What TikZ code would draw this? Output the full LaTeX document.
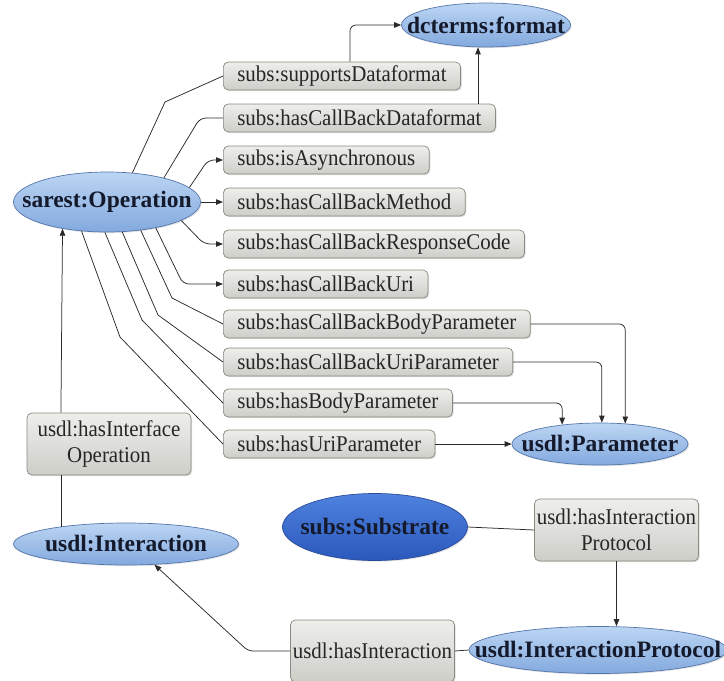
\documentclass[tikz,border=0pt]{standalone}
\usepackage{fontspec}
\setmainfont{Liberation Serif}[FakeStretch=0.93]
\newfontfamily\classfont{Liberation Serif}
\usetikzlibrary{shapes.geometric,arrows.meta,shadows}

\definecolor{boxtop}{HTML}{EEEEEB}
\definecolor{boxbot}{HTML}{CECEC9}
\definecolor{boxline}{HTML}{8A8A80}
\definecolor{elltop}{HTML}{BCD5F3}
\definecolor{ellbot}{HTML}{82A9DE}
\definecolor{ellline}{HTML}{5575AA}
\definecolor{subtop}{HTML}{4F82DE}
\definecolor{subbot}{HTML}{2A58BC}
\definecolor{subline}{HTML}{2A4C98}
\definecolor{inkdark}{HTML}{141A2C}
\definecolor{wire}{HTML}{2A2A2A}

\tikzset{
  propbox/.style={draw=boxline, line width=0.7pt, rounded corners=5pt,
    top color=boxtop, bottom color=boxbot, text=black!85,
    font=\fontsize{22.5}{26}\selectfont, inner xsep=14pt, inner ysep=0pt,
    minimum height=28pt,
    drop shadow={shadow xshift=1.2pt, shadow yshift=-1.2pt, opacity=0.25}},
  leftbox/.style={propbox, anchor=west},
  bigbox/.style={propbox, align=center, inner xsep=2pt,
    minimum width=164pt, minimum height=62pt},
  classell/.style={ellipse, draw=ellline, line width=0.7pt,
    top color=elltop, bottom color=ellbot, text=inkdark, inner sep=0pt,
    font=\classfont\fontsize{23.5}{27}\selectfont\bfseries,
    drop shadow={shadow xshift=1.2pt, shadow yshift=-1.2pt, opacity=0.2}},
  darkell/.style={classell, draw=subline, top color=subtop, bottom color=subbot},
  wireline/.style={draw=wire, line width=0.75pt},
  arr/.style={wireline, -{Triangle[length=7pt, width=5.5pt]}},
}

\begin{document}
\begin{tikzpicture}[x=1pt, y=-1pt]
\path[use as bounding box] (0,0) rectangle (724,681);

% classes
\node[classell, minimum width=169pt, minimum height=44pt] (dc) at (486,25) {\makebox[0pt]{dcterms:format}};
\node[classell, minimum width=187pt, minimum height=60pt] (op) at (107,202) {\makebox[0pt]{sarest:Operation}};
\node[classell, minimum width=176pt, minimum height=42pt] (pa) at (600,444) {\makebox[0pt]{usdl:Parameter}};
\node[darkell, minimum width=185pt, minimum height=67pt] (sub) at (375,527) {\makebox[0pt]{subs:Substrate}};
\node[classell, minimum width=225pt, minimum height=42pt] (inter) at (126,544) {\makebox[0pt]{usdl:Interaction}};
\node[classell, minimum width=258pt, minimum height=47pt] (iprot) at (598,650) {\makebox[0pt]{usdl:InteractionProtocol}};

% properties of sarest:Operation
\node[leftbox] (b1) at (223,76) {subs:supportsDataformat};
\node[leftbox] (b2) at (223,118) {subs:hasCallBackDataformat};
\node[leftbox] (b3) at (223,160) {subs:isAsynchronous};
\node[leftbox] (b4) at (223,202) {subs:hasCallBackMethod};
\node[leftbox] (b5) at (223,244) {subs:hasCallBackResponseCode};
\node[leftbox] (b6) at (223,284) {subs:hasCallBackUri};
\node[leftbox] (b7) at (223,324) {subs:hasCallBackBodyParameter};
\node[leftbox] (b8) at (223,362) {subs:hasCallBackUriParameter};
\node[leftbox] (b9) at (223,403) {subs:hasBodyParameter};
\node[leftbox] (b10) at (223,444) {subs:hasUriParameter};

% other properties
\node[bigbox] (ifbox) at (109,444) {usdl:hasInterface\\Operation};
\node[bigbox] (ipbox) at (616.5,530) {usdl:hasInteraction\\Protocol};
\node[bigbox] (hibox) at (372.5,651) {usdl:hasInteraction};

% Operation to its property boxes
\draw[wireline] (op.49) -- ([xshift=-58pt, yshift=-26pt]b1.west) -- (b1.west);
\draw[wireline, rounded corners=6pt] (op.23) -- ([xshift=-23pt]b2.west) -- (b2.west);
\draw[arr, rounded corners=6pt] (op.10) -- ([xshift=-15pt]b3.west) -- (b3.west);
\draw[arr] (op.east) -- (b4.west);
\draw[arr, rounded corners=6pt] (op.346) -- ([xshift=-19pt]b5.west) -- (b5.west);
\draw[arr, rounded corners=6pt] (op.332) -- ([xshift=-40pt]b6.west) -- (b6.west);
\draw[wireline] (op.320) -- ([xshift=-51pt, yshift=26pt]b7.west) -- (b7.west);
\draw[wireline] (op.297) -- ([xshift=-65pt, yshift=47pt]b8.west) -- (b8.west);
\draw[wireline] (op.266) -- ([xshift=-81pt, yshift=83pt]b9.west) -- (b9.west);
\draw[wireline] (op.229) -- ([xshift=-103pt, yshift=107pt]b10.west) -- (b10.west);

% boxes to dcterms:format
\coordinate (dcfoot) at ([xshift=-8pt]dc.south);
\draw[arr, rounded corners=6pt] ([xshift=8pt]b1.north) |- (dc.west);
\draw[arr] (b2.north -| dcfoot) -- (dcfoot);

% boxes to usdl:Parameter
\draw[arr, rounded corners=6pt] (b7.east) -| (pa.39);
\draw[arr, rounded corners=6pt] (b8.east) -| (pa.85);
\draw[arr, rounded corners=6pt] (b9.east) -| (pa.153);
\draw[arr] (b10.east) -- (pa.west);

% interface operation
\coordinate (ifx) at (inter.165);
\draw[wireline] (ifx) -- (ifx |- ifbox.south);
\draw[arr] (ifbox.north -| ifx) -- (op.211);

% substrate and interaction protocol
\draw[wireline] (sub.east) -- (ipbox.west);
\draw[arr] (ipbox.south) -- (ipbox.south |- iprot.north);
\draw[wireline] (hibox.east) -- (iprot.west);
\draw[arr, rounded corners=5pt] (hibox.west) -- ([xshift=-42pt]hibox.west) -- (inter.324);
\end{tikzpicture}
\end{document}
